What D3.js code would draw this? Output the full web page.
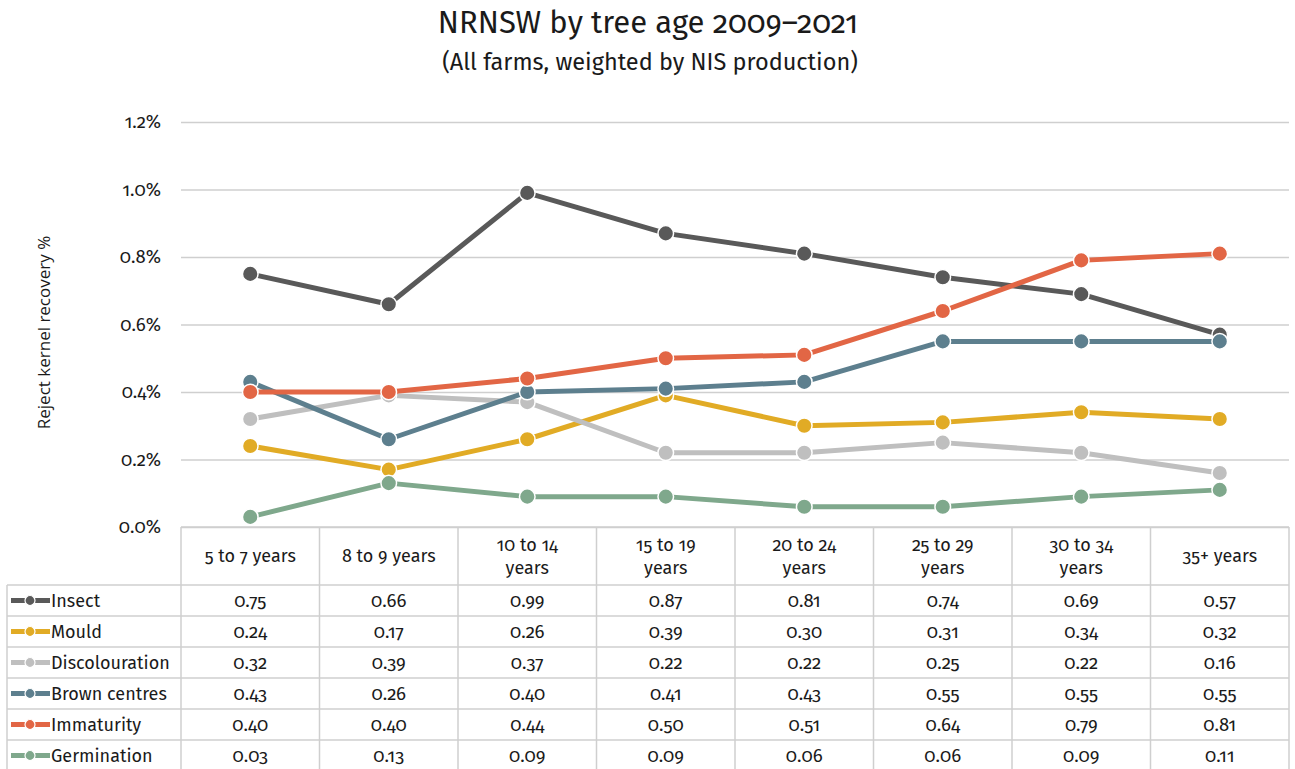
<!DOCTYPE html>
<html>
<head>
<meta charset="utf-8">
<script src="https://cdn.jsdelivr.net/npm/d3@7"></script>
<style>
  html, body { margin: 0; padding: 0; background: #fff; }
  svg { display: block; }
  .f { font-family: "Fira Sans", "Noto Sans", "Open Sans", sans-serif; font-variant-numeric: oldstyle-nums; fill: #1a1a1a; font-weight: 400; }
</style>
</head>
<body>
<svg id="chart" width="1295" height="769"></svg>
<script>
// Tree-age groups (x categories) and their two-line header labels
const categories = ["5 to 7 years", "8 to 9 years", "10 to 14 years", "15 to 19 years",
                    "20 to 24 years", "25 to 29 years", "30 to 34 years", "35+ years"];
const headerLines = [["5 to 7 years"], ["8 to 9 years"], ["10 to 14", "years"], ["15 to 19", "years"],
                     ["20 to 24", "years"], ["25 to 29", "years"], ["30 to 34", "years"], ["35+ years"]];

// Reject kernel recovery (%) per defect type
const seriesNames = ["Insect", "Mould", "Discolouration", "Brown centres", "Immaturity", "Germination"];
const insect         = [0.75, 0.66, 0.99, 0.87, 0.81, 0.74, 0.69, 0.57];
const mould          = [0.24, 0.17, 0.26, 0.39, 0.30, 0.31, 0.34, 0.32];
const discolouration = [0.32, 0.39, 0.37, 0.22, 0.22, 0.25, 0.22, 0.16];
const brownCentres   = [0.43, 0.26, 0.40, 0.41, 0.43, 0.55, 0.55, 0.55];
const immaturity     = [0.40, 0.40, 0.44, 0.50, 0.51, 0.64, 0.79, 0.81];
const germination    = [0.03, 0.13, 0.09, 0.09, 0.06, 0.06, 0.09, 0.11];
const seriesColors   = ["#595959", "#E1AB25", "#BFBFBF", "#5D7F8E", "#E26645", "#7FA88C"];

// Y axis ticks (percent)
const yTicks = [0, 0.2, 0.4, 0.6, 0.8, 1.0, 1.2];

const series = seriesNames.map((name, i) => ({
  name,
  color: seriesColors[i],
  values: [insect, mould, discolouration, brownCentres, immaturity, germination][i]
}));

const svg = d3.select("#chart");
const plot = { left: 181, right: 1289, top: 122, bottom: 527 };
const legendLeft = 7;
const headerBottom = 585;
const rowH = 31;
const tableFont = "18px";

const x = d3.scaleBand().domain(categories).range([plot.left, plot.right]);
const y = d3.scaleLinear().domain([0, 1.2]).range([plot.bottom, plot.top]);
const grid = "#CFCFCF";

// Titles
svg.append("text").attr("class", "f").attr("x", 648).attr("y", 33)
  .attr("text-anchor", "middle").style("font-size", "31px")
  .text("NRNSW by tree age 2009\u20132021");
svg.append("text").attr("class", "f").attr("x", 650).attr("y", 70)
  .attr("text-anchor", "middle").style("font-size", "23.5px")
  .text("(All farms, weighted by NIS production)");

// Y axis label
svg.append("text")
  .attr("transform", `translate(50,${(plot.top + plot.bottom) / 2 + 8}) rotate(-90)`)
  .attr("text-anchor", "middle")
  .style("font-family", "'Open Sans', 'Noto Sans', sans-serif")
  .style("font-size", "17px").style("fill", "#1a1a1a")
  .text("Reject kernel recovery %");

// Gridlines and tick labels
const yAxis = d3.axisLeft(y).tickValues(yTicks)
  .tickSize(-(plot.right - plot.left)).tickPadding(20)
  .tickFormat(d => d3.format(".1f")(d) + "%");
const gy = svg.append("g").attr("transform", `translate(${plot.left},0)`).call(yAxis);
gy.select(".domain").remove();
gy.selectAll(".tick line").attr("stroke", grid).attr("stroke-width", 1.3);
gy.selectAll(".tick text").attr("class", "f").style("font-size", "18.5px");

// Data table: grid lines
const tableBottom = headerBottom + rowH * seriesNames.length;
const tg = svg.append("g").attr("stroke", grid).attr("stroke-width", 1.5).attr("fill", "none");
// vertical lines at column boundaries
const bounds = categories.map(c => x(c)).concat([plot.right]);
bounds.forEach(bx => tg.append("line").attr("x1", bx).attr("x2", bx).attr("y1", plot.bottom).attr("y2", tableBottom));
tg.append("line").attr("x1", legendLeft).attr("x2", legendLeft).attr("y1", headerBottom).attr("y2", tableBottom);
// horizontal lines
tg.append("line").attr("x1", plot.left).attr("x2", plot.right).attr("y1", plot.bottom).attr("y2", plot.bottom);
d3.range(seriesNames.length + 1).forEach(i => {
  const yy = headerBottom + i * rowH;
  tg.append("line").attr("x1", legendLeft).attr("x2", plot.right).attr("y1", yy).attr("y2", yy);
});

// Header labels
categories.forEach((c, i) => {
  const lines = headerLines[i];
  const cx = x(c) + x.bandwidth() / 2;
  const t = svg.append("text").attr("class", "f").attr("text-anchor", "middle")
    .style("font-size", tableFont);
  const mid = (plot.bottom + headerBottom) / 2;
  if (lines.length === 1) {
    t.attr("x", cx).attr("y", mid + 6).text(lines[0]);
  } else {
    lines.forEach((l, k) => t.append("tspan").attr("x", cx).attr("y", mid - 5 + k * 23).text(l));
  }
});

// Table rows: legend key, series name, values
series.forEach((s, i) => {
  const cy = headerBottom + i * rowH + rowH / 2;
  const key = svg.append("g");
  key.append("line").attr("x1", 11).attr("x2", 50).attr("y1", cy).attr("y2", cy)
    .attr("stroke", s.color).attr("stroke-width", 5);
  key.append("circle").attr("cx", 30).attr("cy", cy).attr("r", 5)
    .attr("fill", s.color).attr("stroke", "#fff").attr("stroke-width", 1.2);
  svg.append("text").attr("class", "f").attr("x", 51).attr("y", cy + 6)
    .style("font-size", tableFont).text(s.name);
  s.values.forEach((v, j) => {
    svg.append("text").attr("class", "f")
      .attr("x", x(categories[j]) + x.bandwidth() / 2).attr("y", cy + 6)
      .attr("text-anchor", "middle").style("font-size", "18.5px")
      .text(d3.format(".2f")(v));
  });
});

// Lines and markers, drawn in series order so later series sit on top
const line = d3.line().x((d, j) => x(categories[j]) + x.bandwidth() / 2).y(d => y(d));
series.forEach(s => {
  const g = svg.append("g");
  g.append("path").datum(s.values).attr("d", line)
    .attr("fill", "none").attr("stroke", s.color).attr("stroke-width", 5)
    .attr("stroke-linejoin", "round");
  g.selectAll("circle").data(s.values).join("circle")
    .attr("cx", (d, j) => x(categories[j]) + x.bandwidth() / 2)
    .attr("cy", d => y(d))
    .attr("r", 7.8)
    .attr("fill", s.color).attr("stroke", "#fff").attr("stroke-width", 1.5);
});
</script>
</body>
</html>
